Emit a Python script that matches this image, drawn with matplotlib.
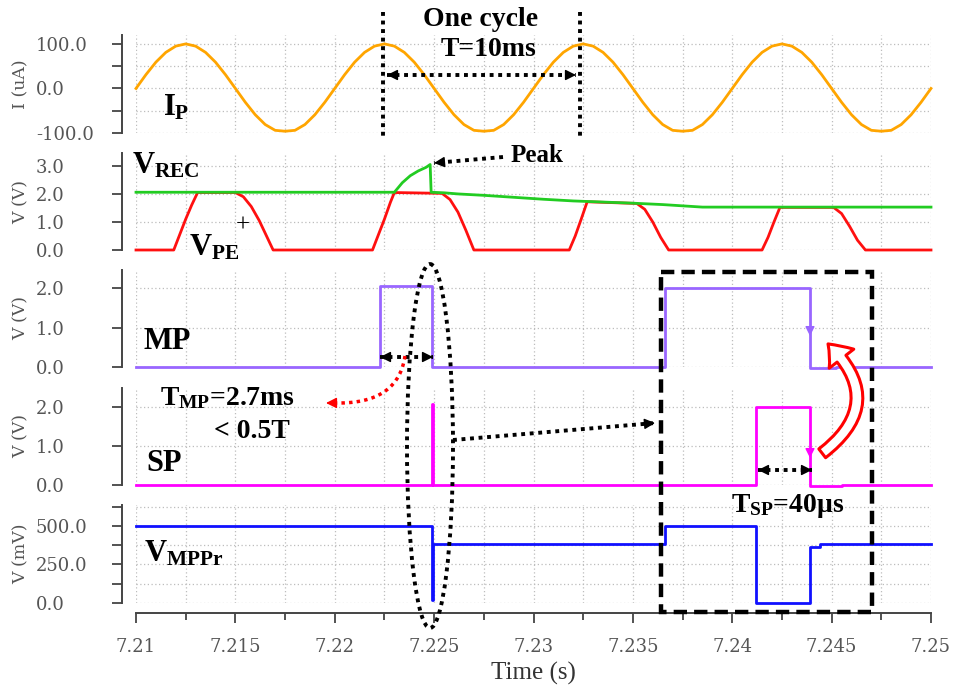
import numpy as np
import matplotlib
matplotlib.use("Agg")
import matplotlib.pyplot as plt
from matplotlib.patches import Ellipse, Rectangle, FancyArrowPatch
from matplotlib.ticker import MultipleLocator, FormatStrFormatter, FuncFormatter

plt.rcParams['mathtext.fontset'] = 'custom'
plt.rcParams['mathtext.rm'] = 'Liberation Serif:bold'
plt.rcParams['mathtext.it'] = 'Liberation Serif:bold'
plt.rcParams['mathtext.bf'] = 'Liberation Serif:bold'

# ---- data ----
# I_P (uA), sampled every 0.5 ms from 7.21 s
ip_t = np.round(np.arange(7.21, 7.25001, 0.0005), 4)
ip_uA = [0, 31, 59, 81, 95, 100, 95, 81, 59, 31, 0, -31, -59, -81, -94, -96, -94, -81, -59, -31,
         0, 31, 59, 81, 95, 100, 95, 81, 59, 31, 0, -31, -59, -81, -94, -96, -94, -81, -59, -31,
         0, 31, 59, 81, 95, 100, 95, 81, 59, 31, 0, -31, -59, -81, -94, -96, -94, -81, -59, -31,
         0, 31, 59, 81, 95, 100, 95, 81, 59, 31, 0, -31, -59, -81, -94, -96, -94, -81, -59, -31,
         0]

# V_REC (V)
rec_t = [7.2100, 7.2230, 7.2234, 7.2238, 7.2242, 7.2246, 7.2248, 7.22485, 7.2255, 7.2262,
         7.2275, 7.2290, 7.2305, 7.2320, 7.2335, 7.2350, 7.2365, 7.2385, 7.2500]
rec_v = [2.06, 2.06, 2.4, 2.65, 2.82, 2.95, 3.05, 2.06, 2.04, 2.0,
         1.95, 1.88, 1.81, 1.75, 1.71, 1.67, 1.62, 1.53, 1.53]

# V_PE+ (V)
pe_t = [7.2100, 7.2119, 7.2122, 7.2125, 7.2128, 7.2131, 7.2150, 7.2154, 7.2158, 7.2162, 7.2166, 7.2169,
        7.2219, 7.2222, 7.2225, 7.2228, 7.2230, 7.2254, 7.2258, 7.2262, 7.2266, 7.2270,
        7.2318, 7.2321, 7.2324, 7.2327, 7.2352, 7.2356, 7.2360, 7.2364, 7.2368,
        7.2415, 7.2418, 7.2421, 7.2424, 7.2451, 7.2455, 7.2459, 7.2463, 7.2467, 7.2500]
pe_v = [0, 0, 0.55, 1.1, 1.6, 2.05, 2.05, 1.9, 1.55, 1.05, 0.45, 0,
        0, 0.55, 1.1, 1.7, 2.05, 2.02, 1.8, 1.35, 0.7, 0,
        0, 0.5, 1.1, 1.72, 1.66, 1.45, 1.0, 0.45, 0,
        0, 0.45, 1.0, 1.52, 1.52, 1.3, 0.85, 0.35, 0, 0]

# MP, SP, V_MPPr are steps (value holds until next time)
mp_t = [7.2100, 7.2223, 7.2249, 7.2366, 7.2439, 7.2452, 7.2500]
mp_v = [0, 2.05, 0, 2.0, -0.03, 0, 0]

sp_t = [7.2100, 7.2249, 7.22495, 7.2412, 7.2439, 7.2455, 7.2500]
sp_v = [0, 2.1, 0, 2.0, -0.03, 0, 0]

mppr_t = [7.2100, 7.2249, 7.22492, 7.2366, 7.2412, 7.2439, 7.2444, 7.2500]
mppr_mV = [500, 20, 380, 500, 0, 360, 380, 380]

W, H = 954, 688
fig = plt.figure(figsize=(W / 100, H / 100), dpi=100)

left = 136 / W
width = (931 - 136) / W
# (top px, bottom px) of each panel
rows = [(35, 133), (153, 250), (270, 367), (388, 485), (505, 603)]
axes = []
for top, bot in rows:
    axes.append(fig.add_axes([left, 1 - bot / H, width, (bot - top) / H]))

tick_col = '#555555'
grid_kw = dict(color='#bdbdbd', linestyle=(0, (1, 2)), lw=0.9)


def style_panel(ax, ylim, major, minor, ylabel, fmt='%.1f', last=False):
    ax.set_xlim(7.21, 7.25)
    ax.set_ylim(*ylim)
    for s in ['top', 'right', 'bottom']:
        ax.spines[s].set_visible(False)
    ax.spines['left'].set_position(('outward', 10))
    ax.spines['left'].set_color('#444444')
    ax.spines['left'].set_linewidth(1.4)
    ax.yaxis.set_major_locator(MultipleLocator(major))
    if minor:
        ax.yaxis.set_minor_locator(MultipleLocator(minor))
    ax.yaxis.set_major_formatter(FormatStrFormatter(fmt))
    ax.xaxis.set_major_locator(MultipleLocator(0.005))
    ax.xaxis.set_minor_locator(MultipleLocator(0.0025))
    # labels left-aligned at about x=37 px, as in the screenshot
    ax.tick_params(axis='y', which='major', length=7, width=1.3, color='#444444',
                   labelcolor=tick_col, labelsize=13, pad=55)
    ax.tick_params(axis='y', which='minor', length=7, width=1.3, color='#444444')
    for lab in ax.get_yticklabels():
        lab.set_family('DejaVu Serif')
        lab.set_horizontalalignment('left')
    ax.grid(True, which='both', **grid_kw)
    ax.set_axisbelow(True)
    ax.set_ylabel(ylabel, color=tick_col, fontsize=12.5, family='DejaVu Serif')
    ax.yaxis.set_label_coords(-0.134, 0.5)
    if last:
        ax.spines['bottom'].set_visible(True)
        ax.spines['bottom'].set_position(('outward', 7))
        ax.spines['bottom'].set_color('#444444')
        ax.spines['bottom'].set_linewidth(1.4)
        ax.xaxis.set_major_formatter(FuncFormatter(lambda v, p: ('%.4f' % v).rstrip('0')))
        ax.tick_params(axis='x', which='major', length=7, width=1.3, color='#444444',
                       labelcolor=tick_col, labelsize=13, pad=11)
        ax.tick_params(axis='x', which='minor', length=5, width=1.3, color='#444444')
        for lab in ax.get_xticklabels():
            lab.set_family('DejaVu Serif')
        ax.set_xlabel('Time (s)', fontsize=18, family='Liberation Serif', color='#333333')
        ax.xaxis.set_label_coords(0.5, -0.60)
    else:
        ax.tick_params(axis='x', which='both', length=0, labelbottom=False)


ax1, ax2, ax3, ax4, ax5 = axes
style_panel(ax1, (-100, 120), 100, 50, 'I (uA)')
style_panel(ax2, (0, 3.46), 1.0, None, 'V (V)')
style_panel(ax3, (0, 2.46), 1.0, None, 'V (V)')
style_panel(ax4, (0, 2.5), 1.0, None, 'V (V)')
style_panel(ax5, (0, 635), 250, 125, 'V (mV)', last=True)

lw = 2.0
ax1.plot(ip_t, ip_uA, color='#FFA500', lw=lw, clip_on=False)
ax2.plot(pe_t, pe_v, color='#FF1010', lw=lw, clip_on=False)
ax2.plot(rec_t, rec_v, color='#22CC22', lw=lw, clip_on=False)
ax3.plot(mp_t, mp_v, color='#9966FF', lw=lw, drawstyle='steps-post', clip_on=False)
ax4.plot(sp_t, sp_v, color='#FF00FF', lw=lw, drawstyle='steps-post', clip_on=False)
ax5.plot(mppr_t, mppr_mV, color='#1010FF', lw=lw, drawstyle='steps-post', clip_on=False)

# ---- overlay in pixel coordinates for annotations ----
ov = fig.add_axes([0, 0, 1, 1], facecolor='none')
ov.set_xlim(0, W)
ov.set_ylim(H, 0)
ov.axis('off')

dots = (0, (1, 1.2))


def head(p_from, p_to, color='k', ms=16):
    # solid arrow head at p_to, aimed along p_from -> p_to
    d = np.array(p_to, float) - np.array(p_from, float)
    d = d / np.hypot(*d)
    q = np.array(p_to) - d * 8
    ov.annotate('', xy=p_to, xytext=q,
                arrowprops=dict(arrowstyle='-|>', color=color, lw=1, mutation_scale=ms,
                                shrinkA=0, shrinkB=0))


def dotted_arrow(p0, p1, color='k', both=False, lw=2.8):
    ov.plot([p0[0], p1[0]], [p0[1], p1[1]], color=color, lw=lw, linestyle=dots)
    head(p0, p1, color)
    if both:
        head(p1, p0, color)


# one cycle markers
for x in (383, 580):
    ov.plot([x, x], [12, 140], color='k', lw=2.8, linestyle=dots)
ov.text(481, 19, 'One cycle', ha='center', va='center', fontsize=20,
        family='Liberation Serif', weight='bold')
ov.text(489, 50, 'T=10ms', ha='center', va='center', fontsize=20,
        family='Liberation Serif', weight='bold')
dotted_arrow((387, 75), (576, 75), both=True)

# peak
ov.text(511, 155, 'Peak', ha='left', va='center', fontsize=18,
        family='Liberation Serif', weight='bold')
dotted_arrow((503, 157), (434, 163))

# signal names
big = dict(fontsize=22, family='Liberation Serif', weight='bold', va='baseline', ha='left')
ov.text(163, 116, r'$I_P$', **big)
ov.text(132, 174, r'$V_{REC}$', **big)
ov.text(189, 256, r'$V_{PE}$', **big)
ov.text(236, 226, '+', fontsize=18, family='Liberation Serif', ha='left', va='center')
ov.text(144, 349, 'MP', **big)
ov.text(146, 471, 'SP', **big)
ov.text(144, 562, r'$V_{MPPr}$', **big)

# ellipse around the event at 7.225 s
ov.add_patch(Ellipse((430, 446), 46, 364, fill=False, ec='k', lw=2.8, linestyle=dots))

# MP pulse width
dotted_arrow((380, 357), (433, 357), both=True)
s = np.linspace(0, 1, 30)
p0, c, p2 = np.array([405, 356]), np.array([398, 404]), np.array([336, 403])
curve = ((1 - s) ** 2)[:, None] * p0 + (2 * s * (1 - s))[:, None] * c + (s ** 2)[:, None] * p2
ov.plot(curve[:, 0], curve[:, 1], color='red', lw=2.5, linestyle=dots)
head(curve[-3], (326, 403), color='red')
ov.text(160, 398, r'$T_{MP}$=2.7ms', ha='left', va='center', fontsize=20,
        family='Liberation Serif', weight='bold')
ov.text(214, 432, '< 0.5T', ha='left', va='center', fontsize=20,
        family='Liberation Serif', weight='bold')

# zoom pointer and dashed box
dotted_arrow((453, 440), (655, 423))
ov.add_patch(Rectangle((661, 272), 211, 340, fill=False, ec='k', lw=3.2,
                       linestyle=(0, (3, 1.6))))

# falling-edge markers
head((810, 318), (810, 336), color='#9966FF', ms=14)
head((810, 440), (810, 458), color='#FF00FF', ms=14)

# hollow curved arrow SP -> MP
ov.add_patch(FancyArrowPatch((820, 455), (826, 342), connectionstyle='arc3,rad=0.6',
                             arrowstyle='simple,head_length=0.9,head_width=1.4,tail_width=0.5',
                             mutation_scale=16, fc='white', ec='red', lw=2.2))

# SP pulse width
dotted_arrow((758, 470), (812, 470), both=True)
ov.text(731, 506, r'$T_{SP}$=40μs', ha='left', va='center', fontsize=20,
        family='Liberation Serif', weight='bold')

fig.savefig('out.png', dpi=100)
